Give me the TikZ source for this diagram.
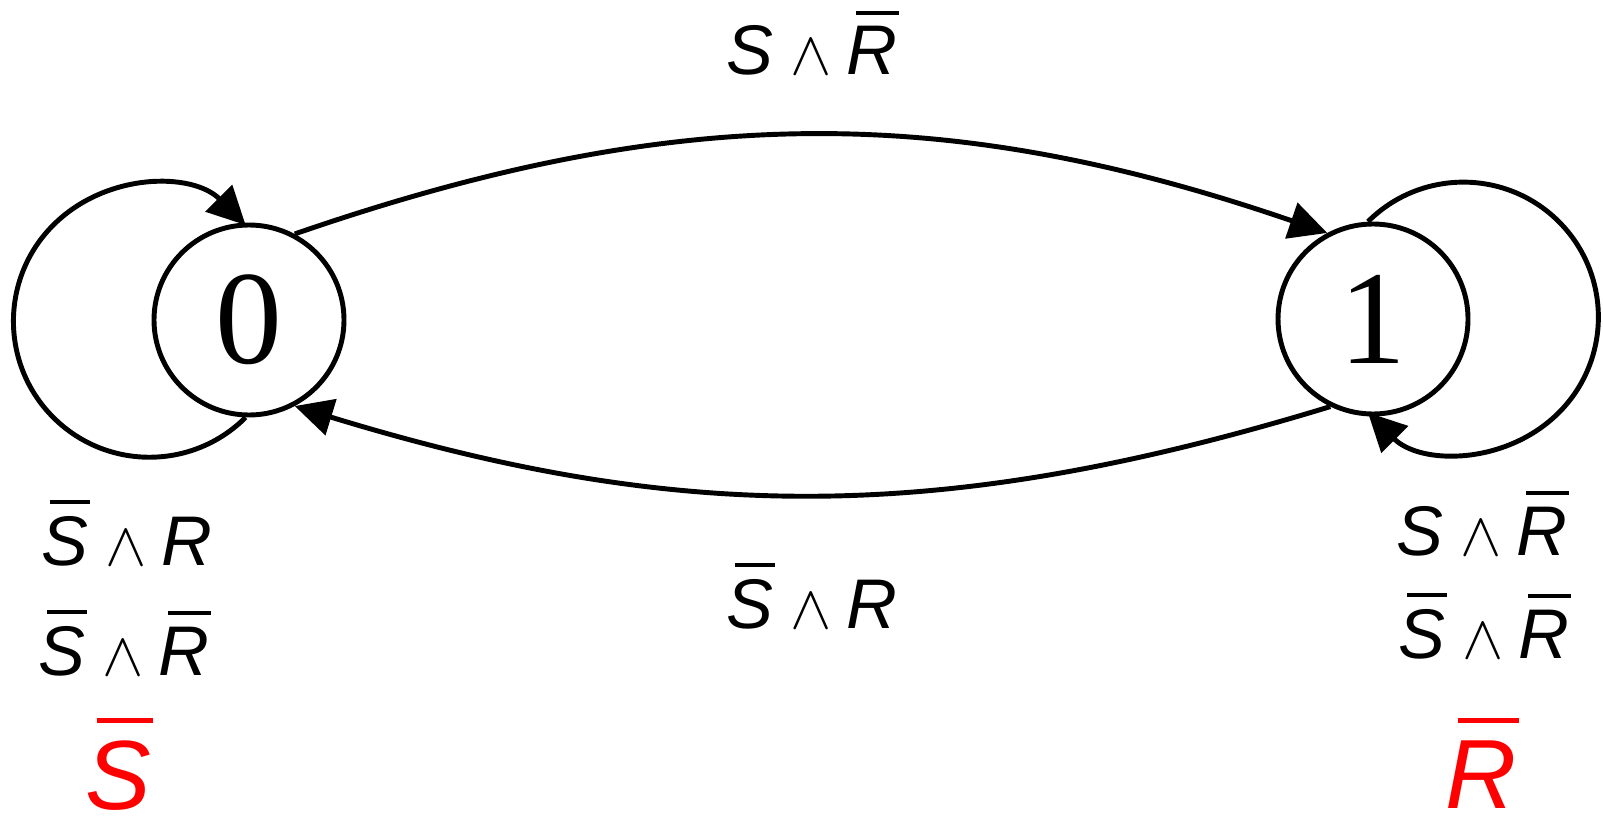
\documentclass[tikz,border=0pt]{standalone}
\usepackage{fontspec}
\setmainfont{Liberation Sans}
\newfontfamily\digitfont{Liberation Serif}
\usetikzlibrary{arrows.meta}
\newcommand{\ov}[1]{\sbox0{\itshape #1}\makebox[0pt][l]{\hspace{0.18\wd0}\rule[1.25\ht0]{0.85\wd0}{0.05em}}\usebox0}
\newcommand{\wg}{\hspace{0.24em}\scalebox{0.85}{$\wedge$}\hspace{0.22em}}
\begin{document}
\begin{tikzpicture}[line width=1.4pt,
  every node/.style={inner sep=0pt,font=\fontsize{20}{24}\selectfont\itshape},
  state/.style={draw,circle,minimum size=1.9cm,font=\digitfont\fontsize{38}{38}\selectfont},
  mark label/.style={anchor=base,red,font=\fontsize{28}{30}\selectfont\itshape},
  >={Triangle[length=3.8mm,width=3.7mm]}]
\useasboundingbox (0,0) rectangle (16.03,8.25);
\node[state] (s0) at (2.49,5.05) {0};
\node[state] (s1) at (13.73,5.06) {1};
\draw[->] (s0.-92) arc[start angle=-45,end angle=-315,radius=1.36];
\draw[->] (s1.93) arc[start angle=135,end angle=-135,radius=1.35];
\draw[->] (s0.62) to[bend left=19] (s1.118);
\draw[->] (s1.-116) to[bend left=17] (s0.-62);
\node[anchor=base] (top) at (8.12,7.50) {S\wg\ov{R}};
\node[anchor=base] (bot) at (8.12,1.97) {\ov{S}\wg R};
\node[anchor=base] (left1) at (1.27,2.60) {\ov{S}\wg R};
\node[anchor=base] (left2) at (1.24,1.50) {\ov{S}\wg\ov{R}};
\node[mark label] (left3) at (1.18,0.16) {\ov{S}};
\node[anchor=base] (right1) at (14.82,2.70) {S\wg\ov{R}};
\node[anchor=base] (right2) at (14.84,1.67) {\ov{S}\wg\ov{R}};
\node[mark label] (right3) at (14.81,0.17) {\ov{R}};
\end{tikzpicture}
\end{document}
